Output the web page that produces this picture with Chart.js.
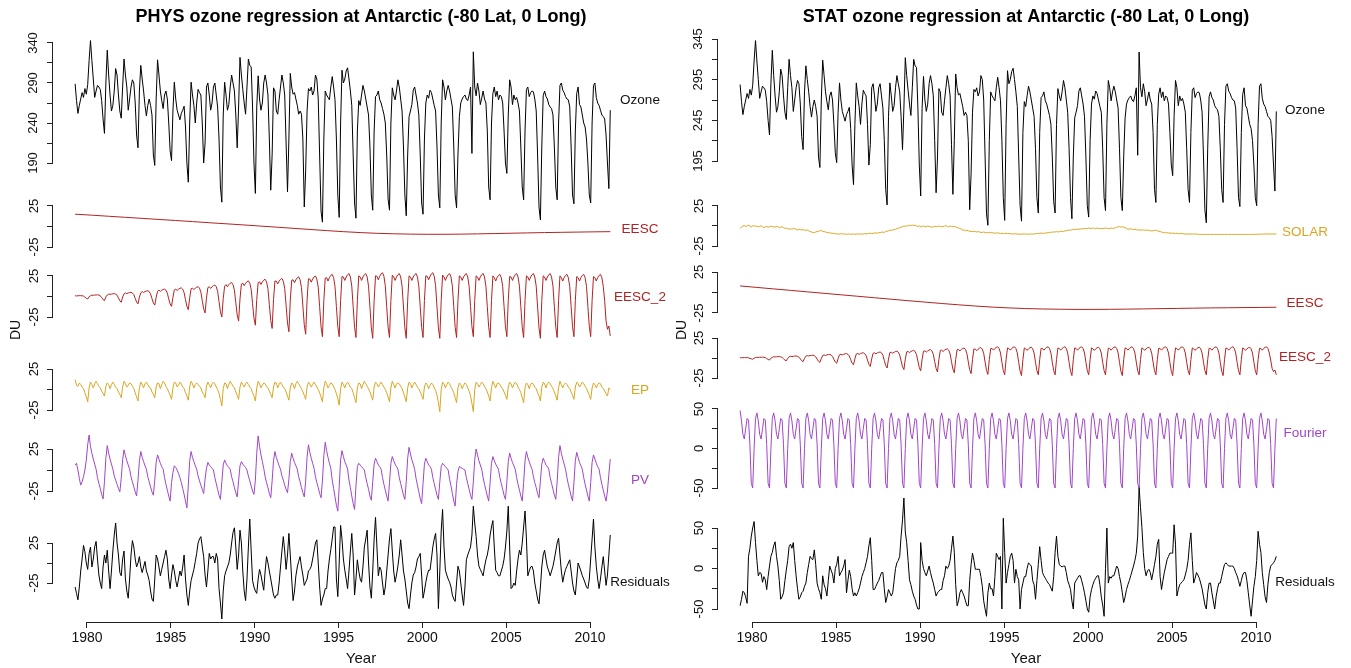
<!DOCTYPE html>
<html>
<head>
<meta charset="utf-8">
<script src="https://cdn.jsdelivr.net/npm/chart.js@4.4.1/dist/chart.umd.min.js"></script>
<style>
  html, body { margin: 0; padding: 0; background: #fff; }
  .wrap { display: flex; width: 1351px; height: 668px; }
  canvas { display: block; }
</style>
</head>
<body>
<div class="wrap">
  <canvas id="phys" width="675" height="668"></canvas>
  <canvas id="stat" width="676" height="668"></canvas>
</div>
<script>
// Monthly series from mid-April 1979, 384 months (rows = Apr..Mar)
const months = Array.from({length: 384}, (_, i) => 1979 + (3.5 + i) / 12);

const ozone = [
  289,268,252,262,270,278,272,283,276,288,318,343,
  318,295,272,280,287,285,282,268,245,227,290,331,
  300,275,255,262,280,308,300,275,255,246,285,320,
  300,285,256,270,285,294,290,265,225,209,280,312,
  295,280,262,249,262,270,262,250,200,187,270,319,
  300,280,268,258,275,280,270,240,205,193,255,291,
  270,256,250,244,252,256,261,235,190,166,240,291,
  275,262,240,265,282,278,275,240,190,215,285,290,
  275,256,265,285,290,275,260,220,160,141,250,291,
  275,256,263,285,300,290,280,250,209,260,322,300,
  282,265,251,285,320,312,310,260,190,152,260,299,
  270,256,265,290,300,290,275,220,156,200,284,280,
  255,251,269,285,300,290,275,215,154,220,302,285,
  276,278,270,262,251,255,251,220,135,180,255,283,
  280,285,275,280,300,295,270,200,130,116,220,280,
  275,272,269,285,298,285,269,220,150,122,240,306,
  290,295,305,309,295,280,262,200,140,121,230,268,
  262,275,287,280,270,260,250,210,150,131,230,273,
  275,280,269,265,258,251,240,200,145,131,240,284,
  275,269,280,294,285,270,255,210,150,124,200,248,
  255,263,281,285,275,265,250,200,140,126,220,265,
  275,271,281,278,270,262,255,210,150,134,240,294,
  285,269,280,287,280,270,260,210,150,134,200,248,
  265,270,273,275,270,268,275,285,202,329,285,274,
  290,280,263,271,280,270,265,230,160,144,240,277,
  285,273,280,269,275,273,265,230,190,177,250,294,
  285,263,275,269,272,265,255,210,160,144,230,282,
  285,273,278,280,279,270,255,200,135,119,210,274,
  280,273,270,263,260,258,250,210,160,144,240,287,
  290,281,278,273,270,269,260,210,150,139,230,277,
  285,263,260,250,240,235,220,190,150,140,240,287,
  290,272,265,262,256,250,248,245,225,190,158,256
];

// EESC terms are smooth, read once a year
const eescYears = [1979.29,1980.29,1981.29,1982.29,1983.29,1984.29,1985.29,1986.29,1987.29,1988.29,
  1989.29,1990.29,1991.29,1992.29,1993.29,1994.29,1995.29,1996.29,1997.29,1998.29,1999.29,2000.29,
  2001.29,2002.29,2003.29,2004.29,2005.29,2006.29,2007.29,2008.29,2009.29,2010.29,2011.21];
const eescPhys = [15,13.8,12.5,11.2,9.9,8.6,7.3,6,4.6,3.3,2,0.6,-0.8,-2.2,-3.6,-5,-6.3,-7.4,-8.3,-8.9,
  -9.3,-9.5,-9.5,-9.3,-9,-8.6,-8.2,-7.8,-7.4,-7.1,-6.8,-6.5,-6.3];
const eescStat = [8,6.2,4.4,2.6,0.8,-1,-2.8,-4.6,-6.4,-8.2,-10,-11.7,-13.4,-15,-16.5,-17.8,-18.8,-19.6,
  -20.1,-20.4,-20.6,-20.6,-20.5,-20.3,-20,-19.7,-19.4,-19.1,-18.8,-18.6,-18.4,-18.2,-18];

const eesc2Phys = [
  0.9,0.7,0.9,1.0,1.0,0.9,0.5,-0.8,-2.3,-3.0,-0.3,0.9,
  1.7,1.4,1.7,1.9,2.0,1.7,0.9,-1.3,-3.8,-5.0,-0.5,1.8,
  3.0,2.5,3.0,3.3,3.5,3.0,1.6,-1.8,-5.3,-7.0,-0.7,3.2,
  4.3,3.5,4.3,4.8,5.0,4.3,2.3,-2.3,-6.8,-9.0,-0.9,4.5,
  6.0,4.9,6.0,6.7,7.0,6.0,3.2,-2.6,-7.9,-10.5,-1.1,6.3,
  7.7,6.3,7.7,8.6,9.0,7.7,4.1,-3.0,-9.0,-12.0,-1.2,8.1,
  8.9,7.4,8.9,10.0,10.5,8.9,4.7,-4.0,-12.0,-16.0,-1.6,9.5,
  10.2,8.4,10.2,11.4,12.0,10.2,5.4,-5.0,-15.0,-20.0,-2.0,10.8,
  11.9,9.8,11.9,13.3,14.0,11.9,6.3,-6.3,-18.8,-25.0,-2.5,12.6,
  14.5,11.9,14.5,16.2,17.0,14.5,7.7,-7.5,-22.5,-30.0,-3.0,15.3,
  16.2,13.3,16.2,18.1,19.0,16.2,8.6,-8.8,-26.3,-35.0,-3.5,17.1,
  17.9,14.7,17.9,20.0,21.0,17.9,9.5,-9.8,-29.3,-39.0,-3.9,18.9,
  18.7,15.4,18.7,20.9,22.0,18.7,9.9,-10.8,-32.3,-43.0,-4.3,19.8,
  20.4,16.8,20.4,22.8,24.0,20.4,10.8,-11.5,-34.5,-46.0,-4.6,21.6,
  21.3,17.5,21.3,23.8,25.0,21.3,11.3,-12.3,-36.8,-49.0,-4.9,22.5,
  23.0,18.9,23.0,25.7,27.0,23.0,12.2,-12.3,-36.8,-49.0,-4.9,24.3,
  23.8,19.6,23.8,26.6,28.0,23.8,12.6,-12.5,-37.5,-50.0,-5.0,25.2,
  23.8,19.6,23.8,26.6,28.0,23.8,12.6,-12.8,-38.3,-51.0,-5.1,25.2,
  24.7,20.3,24.7,27.6,29.0,24.7,13.1,-12.5,-37.5,-50.0,-5.0,26.1,
  23.8,19.6,23.8,26.6,28.0,23.8,12.6,-12.8,-38.3,-51.0,-5.1,25.2,
  23.8,19.6,23.8,26.6,28.0,23.8,12.6,-12.5,-37.5,-50.0,-5.0,25.2,
  24.7,20.3,24.7,27.6,29.0,24.7,13.1,-12.8,-38.3,-51.0,-5.1,26.1,
  23.8,19.6,23.8,26.6,28.0,23.8,12.6,-12.5,-37.5,-50.0,-5.0,25.2,
  23.8,19.6,23.8,26.6,28.0,23.8,12.6,-12.3,-36.8,-49.0,-4.9,25.2,
  23.8,19.6,23.8,26.6,28.0,23.8,12.6,-12.5,-37.5,-50.0,-5.0,25.2,
  23.0,18.9,23.0,25.7,27.0,23.0,12.2,-12.3,-36.8,-49.0,-4.9,24.3,
  23.8,19.6,23.8,26.6,28.0,23.8,12.6,-12.5,-37.5,-50.0,-5.0,25.2,
  23.8,19.6,23.8,26.6,28.0,23.8,12.6,-12.8,-38.3,-51.0,-5.1,25.2,
  23.8,19.6,23.8,26.6,28.0,23.8,12.6,-12.5,-37.5,-50.0,-5.0,25.2,
  23.0,18.9,23.0,25.7,27.0,23.0,12.2,-12.3,-36.8,-49.0,-4.9,24.3,
  23.0,18.9,23.0,25.7,27.0,23.0,12.2,-12.3,-36.8,-49.0,-4.9,24.3,
  23.0,18.9,23.0,25.7,27.0,23.0,12.2,-5.0,-30.0,-40.0,-36.0,-48.0
];

const ep = [
  12,5,4,8,6,3,1,-4,-9,-15,2,9,
  6,2,7,10,7,4,2,-2,-5,-8,4,8,
  6,1,6,9,6,3,1,-3,-6,-10,3,10,
  7,3,5,8,7,4,1,-4,-9,-14,2,9,
  6,2,7,9,6,3,2,-3,-6,-10,3,8,
  7,1,6,10,8,4,1,-3,-7,-12,2,9,
  8,3,5,9,7,3,1,-4,-8,-13,3,10,
  7,2,6,8,6,4,2,-3,-6,-10,4,9,
  6,2,7,9,7,3,0,-5,-12,-20,1,8,
  7,1,6,10,7,4,2,-3,-7,-12,3,9,
  6,3,7,9,6,3,1,-4,-8,-14,2,10,
  7,2,5,8,7,4,2,-2,-6,-10,3,9,
  8,2,6,9,6,3,1,-3,-8,-13,2,8,
  6,1,7,10,7,4,1,-3,-7,-12,3,9,
  7,3,6,9,6,3,0,-4,-9,-15,2,10,
  7,2,5,8,7,3,0,-5,-11,-19,1,9,
  6,2,7,9,6,3,1,-4,-10,-16,2,8,
  7,1,6,10,7,4,1,-3,-8,-13,3,9,
  7,3,6,9,6,3,0,-4,-9,-15,2,10,
  6,2,7,8,7,4,1,-4,-9,-15,2,9,
  7,2,6,9,6,3,1,-3,-7,-12,3,8,
  6,1,5,8,6,2,-1,-7,-16,-27,0,9,
  7,2,6,9,7,3,0,-4,-10,-16,2,8,
  6,1,5,8,6,2,-2,-8,-17,-27,0,9,
  7,3,6,9,7,4,1,-3,-8,-14,2,10,
  6,2,7,8,6,3,1,-3,-7,-12,3,9,
  7,2,6,9,7,3,0,-4,-10,-16,2,8,
  6,1,6,8,6,3,1,-4,-8,-14,3,9,
  7,2,7,9,7,4,1,-3,-8,-13,2,10,
  6,2,6,8,6,3,1,-3,-7,-12,3,9,
  7,3,6,9,7,4,1,-3,-7,-12,2,8,
  6,2,6,8,7,3,1,-2,-5,-8,2,0
];

const pv = [
  6,8,0,-10,-18,-14,-8,0,12,30,41.6,28,
  20,13,7,1,-9,-16,-22,-29,-34.5,-14,14,29,
  20,13,7,1,-7,-12,-17,-22,-26,-10,12,24,
  17,11,6,1,-8,-14,-20,-26,-31,-12,11,22,
  15,10,5,1,-8,-14,-20,-26,-30,-12,9,18,
  13,8,4,1,-9,-17,-24,-31,-37,-15,-3,5,
  3,0,-4,-9,-15,-22,-29,-37,-45,-18,11,22,
  15,10,5,1,-7,-13,-18,-23,-28,-11,2,9,
  6,4,2,0,-9,-16,-23,-30,-35,-14,6,12,
  8,5,3,1,-8,-14,-21,-27,-32,-13,5,10,
  7,5,3,0,-7,-13,-19,-25,-29,-12,20,40.6,
  28,18,10,2,-8,-15,-21,-28,-33,-13,11,22,
  15,10,5,1,-7,-12,-18,-23,-27,-11,10,20,
  14,9,5,1,-8,-14,-21,-27,-32,-13,15,30,
  21,14,8,2,-8,-15,-21,-28,-33,-13,17,33,
  23,15,8,2,-12,-22,-32,-42,-49,-20,12,23,
  16,10,6,1,-12,-21,-31,-40,-47,-19,4,8,
  6,4,2,0,-9,-16,-23,-31,-36,-14,7,14,
  10,6,4,1,-9,-17,-24,-31,-37,-15,8,16,
  11,7,4,1,-9,-16,-23,-30,-35,-14,14,27,
  19,12,7,1,-10,-18,-26,-34,-40,-16,7,14,
  10,6,4,1,-9,-16,-23,-30,-35,-14,4,8,
  6,4,2,0,-11,-19,-28,-37,-43,-17,-2,4,
  3,2,1,0,-9,-16,-23,-30,-35,-14,12,25,
  18,11,6,1,-9,-17,-24,-31,-37,-15,8,16,
  11,7,4,1,-9,-16,-23,-30,-35,-14,10,20,
  14,9,5,1,-9,-17,-24,-31,-37,-15,11,22,
  15,10,5,1,-8,-15,-21,-28,-33,-13,7,14,
  10,6,4,1,-9,-16,-23,-30,-35,-14,15,29,
  20,13,7,1,-9,-17,-24,-31,-37,-15,11,21,
  15,9,5,1,-9,-17,-24,-31,-37,-15,9,18,
  13,8,4,1,-9,-17,-24,-31,-37,-25,-5,13
];

const residPhys = [
  -30,-38,-46,-30,-10,5,22,14,0,-8,12,20,
  -5,5,20,27,5,-15,-25,-32,-5,10,0,16,
  -10,-32,-10,15,35,50,25,10,-12,-16,5,15,
  -20,-35,-44,-20,10,28,20,5,-5,0,8,-5,
  -12,-5,2,-10,-15,-22,-35,-45,-48,-20,10,5,
  -5,-16,-8,0,8,16,5,-20,-32,-15,-2,-10,
  -22,-30,-20,-10,-16,-5,10,-20,-40,-53,-35,-22,
  -15,-8,2,12,25,30,33,20,8,-15,-30,-10,
  12,5,8,8,0,12,5,-32,-50,-70,-35,-16,
  -10,-5,0,10,25,38,44,20,-8,10,41,25,
  -10,-35,-47,-20,20,55,15,-22,-30,-35,-38,-20,
  -8,-15,-25,-34,-10,8,0,-10,-20,-30,-40,-44,
  -40,-40,-25,-5,15,33,15,-8,10,37,10,-20,
  -47,-35,-16,-5,2,8,-5,-15,-28,-24,-20,-10,
  -8,-4,5,15,25,29,0,-30,-53,-45,-40,-32,
  -32,-10,5,17,30,45,45,-20,-42,0,47,30,
  5,-9,-20,-32,-10,15,37,10,-40,-20,4,-10,
  -20,-24,-5,20,30,41,0,-30,-44,-10,30,57,
  20,-16,-5,-9,-25,-40,-30,-10,10,30,43,15,
  -10,-24,-15,-4,10,29,10,-10,-20,-35,-50,-57,
  -40,-25,-15,-12,-5,5,8,12,-15,-44,-35,-24,
  -15,-9,-9,5,20,30,37,10,-57,-10,40,67,
  20,-9,-15,-20,-24,-30,-40,-45,-48,-25,-4,-10,
  -25,-40,-53,-30,4,10,15,20,35,71,50,33,
  10,-4,-8,-12,-16,-5,4,10,20,35,45,53,
  20,-9,-12,-16,-16,-10,-4,5,20,40,71,20,
  -32,-30,-25,-28,-10,5,16,10,25,45,65,30,
  -16,-10,-5,-4,-10,-25,-35,-45,-51,-30,-5,10,
  16,5,-5,-10,-16,-10,-4,5,15,25,31,10,
  -10,-24,-15,-8,-4,0,4,-10,-25,-35,-40,-20,
  0,-5,-10,-16,-20,-25,-30,-32,-20,5,30,55,
  20,-4,-20,-32,-20,-5,8,-10,-28,-15,10,35
];

const solar = [
  -3,-1.5,0,0.5,-0.5,0,1,0,-1,0,0.5,-0.5,
  0,-1,-0.5,0.5,-1,-2,-1,-0.5,-1.5,-1,0,-1,
  -0.8,-1.5,-0.5,-1,-2,-1.5,-1,-2,-3,-2.5,-3.5,-4,
  -3.5,-4,-3,-3.5,-4,-5,-4,-4.5,-5,-4.5,-5,-5.5,
  -5,-6,-7,-7.5,-8,-8.4,-7.5,-7,-6.5,-6,-5.8,-6.5,
  -7,-7.5,-8,-8.5,-8.5,-9,-9,-9.5,-9.5,-10,-10,-10,
  -9.5,-10,-10,-10,-10.5,-10,-10,-10.5,-10,-10,-10.5,-10,
  -10,-10,-10,-10,-10,-9.5,-10,-9.5,-9.5,-9,-9.5,-9,
  -9,-8.5,-9,-8.5,-8,-8,-7.5,-8,-7,-6.5,-6,-5.5,
  -5,-5.5,-4,-4.5,-3,-3,-2,-1.5,-1,0,-0.5,0.5,
  0,1,0.5,1.3,0.5,1,0,-0.5,0,-1,-0.5,0,
  -0.5,-1,0,-0.5,-1,-1.5,-1,-0.5,-1,-0.5,0,-0.8,
  -0.5,-1,0,0.5,-0.5,-1,0,-0.5,-1,-0.5,-1,-2,
  -2.5,-3,-4,-5,-5,-6,-5.5,-6,-6.5,-7,-6.5,-7,
  -7,-7.5,-7,-7.5,-8,-8,-7.5,-8,-8.5,-8.4,-8,-8.5,
  -8.4,-8.5,-9,-9,-8.5,-9,-9.5,-9,-9.5,-9.5,-9,-9.5,
  -9.5,-9.5,-10,-10,-9.5,-10,-10,-10,-10.5,-10,-10,-10,
  -10,-10,-10.5,-10,-10,-10,-10,-9.5,-9.5,-9.5,-9,-9,
  -9,-9,-9,-8.5,-8.5,-8,-8,-7.5,-7.5,-7.5,-7,-7.5,
  -7,-7,-6.5,-7,-6,-6,-5.5,-5,-5.5,-4.5,-4.5,-4,
  -4.5,-4,-4,-3.5,-4,-3,-3.5,-3,-3,-2.5,-3,-3,
  -2.5,-3,-3.5,-2.5,-3,-3,-3.5,-3,-3,-2.5,-3,-3,
  -3.5,-2.5,-3,-3,-2,-1.5,-1,-0.8,-1.5,-1,-1.5,-2,
  -3,-4,-4,-3.5,-4,-4.5,-4,-4.5,-5,-5,-5,-5,
  -5,-5,-5.5,-5,-5.5,-6,-6,-6,-5.8,-5,-6,-6.5,
  -7,-7.5,-8,-8.4,-8.5,-8.5,-8.5,-9,-9,-9,-9,-9.5,
  -9,-9.5,-9.5,-9.5,-9.5,-10,-10,-10,-10,-10,-10,-10,
  -10,-10,-10,-10.5,-10.5,-10.5,-10.5,-10.5,-10.5,-10.5,-10.5,-10.5,
  -10.5,-10.5,-10.5,-10.5,-10.5,-10.5,-10.5,-10.5,-10.5,-10.5,-10.5,-10.5,
  -10.5,-10.5,-10.5,-10.5,-10.5,-10.5,-10.5,-10.5,-10.5,-10.5,-10.5,-10.5,
  -10.5,-10.5,-10.5,-10.5,-10.5,-10.5,-10.5,-10.5,-10.3,-10.3,-10.3,-10.3,
  -10.2,-10.2,-10,-10,-10,-10,-10,-10,-10,-10,-10,-10
];

const eesc2Stat = [
  0.4,0.4,0.4,0.5,0.5,0.4,0.2,-0.4,-1.1,-1.5,-0.2,0.5,
  0.9,0.7,0.9,1.0,1.0,0.9,0.5,-0.6,-1.9,-2.5,-0.3,0.9,
  1.5,1.3,1.5,1.7,1.8,1.5,0.8,-0.9,-2.6,-3.5,-0.4,1.6,
  2.1,1.8,2.1,2.4,2.5,2.1,1.1,-1.1,-3.4,-4.5,-0.5,2.3,
  3.0,2.5,3.0,3.3,3.5,3.0,1.6,-1.4,-4.1,-5.5,-0.6,3.2,
  3.8,3.2,3.8,4.3,4.5,3.8,2.0,-1.7,-5.0,-6.6,-0.7,4.1,
  4.7,3.9,4.7,5.2,5.5,4.7,2.5,-2.1,-6.4,-8.5,-0.9,5.0,
  5.5,4.6,5.5,6.2,6.5,5.5,2.9,-2.6,-7.9,-10.5,-1.1,5.9,
  6.4,5.3,6.4,7.1,7.5,6.4,3.4,-3.1,-9.4,-12.5,-1.3,6.8,
  7.2,6.0,7.2,8.1,8.5,7.2,3.8,-3.6,-10.9,-14.5,-1.5,7.7,
  8.1,6.7,8.1,9.0,9.5,8.1,4.3,-4.0,-12.0,-16.0,-1.6,8.6,
  8.9,7.4,8.9,10.0,10.5,8.9,4.7,-4.4,-13.1,-17.5,-1.8,9.5,
  9.8,8.1,9.8,10.9,11.5,9.8,5.2,-4.6,-13.9,-18.5,-1.9,10.4,
  10.6,8.8,10.6,11.9,12.5,10.6,5.6,-4.9,-14.6,-19.5,-2.0,11.3,
  11.1,9.1,11.1,12.4,13.0,11.1,5.9,-5.1,-15.4,-20.5,-2.1,11.7,
  11.9,9.8,11.9,13.3,14.0,11.9,6.3,-5.3,-15.8,-21.0,-2.1,12.6,
  11.9,9.8,11.9,13.3,14.0,11.9,6.3,-5.5,-16.5,-22.0,-2.2,12.6,
  11.5,9.5,11.5,12.8,13.5,11.5,6.1,-5.3,-15.8,-21.0,-2.1,12.2,
  11.9,9.8,11.9,13.3,14.0,11.9,6.3,-5.3,-15.8,-21.0,-2.1,12.6,
  11.9,9.8,11.9,13.3,14.0,11.9,6.3,-5.5,-16.5,-22.0,-2.2,12.6,
  11.9,9.8,11.9,13.3,14.0,11.9,6.3,-5.3,-15.8,-21.0,-2.1,12.6,
  11.5,9.5,11.5,12.8,13.5,11.5,6.1,-5.3,-15.8,-21.0,-2.1,12.2,
  11.9,9.8,11.9,13.3,14.0,11.9,6.3,-5.5,-16.5,-22.0,-2.2,12.6,
  11.9,9.8,11.9,13.3,14.0,11.9,6.3,-5.3,-15.8,-21.0,-2.1,12.6,
  11.5,9.5,11.5,12.8,13.5,11.5,6.1,-5.3,-15.8,-21.0,-2.1,12.2,
  11.9,9.8,11.9,13.3,14.0,11.9,6.3,-5.5,-16.5,-22.0,-2.2,12.6,
  11.9,9.8,11.9,13.3,14.0,11.9,6.3,-5.3,-15.8,-21.0,-2.1,12.6,
  11.5,9.5,11.5,12.8,13.5,11.5,6.1,-5.3,-15.8,-21.0,-2.1,12.2,
  11.9,9.8,11.9,13.3,14.0,11.9,6.3,-5.5,-16.5,-22.0,-2.2,12.6,
  11.9,9.8,11.9,13.3,14.0,11.9,6.3,-5.3,-15.8,-21.0,-2.1,12.6,
  11.5,9.5,11.5,12.8,13.5,11.5,6.1,-5.3,-15.8,-21.0,-2.1,12.2,
  11.9,9.8,11.9,13.3,14.0,11.9,6.3,-2.5,-13.0,-17.0,-15.0,-21.0
];

const fourier = [
  48,35,18,12,25,38,36,5,-44,-50,0,38,
  45,35,18,12,25,38,36,5,-44,-50,0,38,
  45,35,18,12,25,38,36,5,-44,-50,0,38,
  45,35,18,12,25,38,36,5,-44,-50,0,38,
  45,35,18,12,25,38,36,5,-44,-50,0,38,
  45,35,18,12,25,38,36,5,-44,-50,0,38,
  45,35,18,12,25,38,36,5,-44,-50,0,38,
  45,35,18,12,25,38,36,5,-44,-50,0,38,
  45,35,18,12,25,38,36,5,-44,-50,0,38,
  45,35,18,12,25,38,36,5,-44,-50,0,38,
  45,35,18,12,25,38,36,5,-44,-50,0,38,
  45,35,18,12,25,38,36,5,-44,-50,0,38,
  45,35,18,12,25,38,36,5,-44,-50,0,38,
  45,35,18,12,25,38,36,5,-44,-50,0,38,
  45,35,18,12,25,38,36,5,-44,-50,0,38,
  45,35,18,12,25,38,36,5,-44,-50,0,38,
  45,35,18,12,25,38,36,5,-44,-50,0,38,
  45,35,18,12,25,38,36,5,-44,-50,0,38,
  45,35,18,12,25,38,36,5,-44,-50,0,38,
  45,35,18,12,25,38,36,5,-44,-50,0,38,
  45,35,18,12,25,38,36,5,-44,-50,0,38,
  45,35,18,12,25,38,36,5,-44,-50,0,38,
  45,35,18,12,25,38,36,5,-44,-50,0,38,
  45,35,18,12,25,38,36,5,-44,-50,0,38,
  45,35,18,12,25,38,36,5,-44,-50,0,38,
  45,35,18,12,25,38,36,5,-44,-50,0,38,
  45,35,18,12,25,38,36,5,-44,-50,0,38,
  45,35,18,12,25,38,36,5,-44,-50,0,38,
  45,35,18,12,25,38,36,5,-44,-50,0,38,
  45,35,18,12,25,38,36,5,-44,-50,0,38,
  45,35,18,12,25,38,36,5,-44,-50,0,38,
  45,35,18,12,25,38,36,5,-44,-50,0,38
];

const residStat = [
  -46,-38,-28,-30,-35,-43,15,25,40,50,58,32,
  10,-9,-5,-6,-17,-10,-14,-26,-10,3,15,20,
  28,33,15,3,-15,-38,-35,-30,-15,-2,10,27,
  30,25,32,10,-9,-25,-38,-35,-30,-28,-22,-18,
  -5,5,15,12,11,23,5,-18,-25,-30,-38,-9,
  -20,-25,-34,-15,3,-2,-7,-18,0,5,15,-9,
  -5,-2,3,11,-30,-15,-2,-10,-25,-34,-30,-34,
  -30,-25,-18,-10,-5,0,7,15,28,38,10,-26,
  -26,-22,-18,-15,-10,-5,-5,-25,-42,-35,-26,-30,
  -34,-30,-15,0,7,10,15,40,60,87,45,32,
  10,-14,-20,-28,-34,-38,-45,-50,-50,32,10,0,
  -5,-9,-3,3,-5,-12,-18,-26,-34,-30,-28,-26,
  -26,-15,-9,3,0,3,10,25,40,20,-20,-46,
  -40,-30,-26,-30,-34,-40,-46,-46,-15,5,19,10,
  -1,-1,-1,-1,-10,-22,-40,-50,-59,-30,-18,-25,
  -25,-34,-10,19,15,11,15,-50,62,20,-18,-5,
  5,15,19,10,-18,-1,-10,-14,-50,-26,-18,-10,
  -10,0,7,5,3,-15,-20,-38,-15,5,27,10,
  -5,-9,-12,-15,-18,-20,-24,-28,-10,20,40,15,
  5,3,2,3,3,-5,-15,-20,-26,-40,-50,-18,
  -15,-12,-9,-9,-15,-22,-30,-40,-50,-54,-35,-26,
  -20,-15,-12,-9,-9,-20,-35,-45,-59,0,50,-18,
  -10,-12,-9,-9,-3,3,0,-10,-18,-30,-42,-35,
  -26,-20,-15,-9,-3,3,10,19,40,101,75,51,
  20,0,-9,-3,-1,-5,-14,-5,5,15,30,36,
  -10,-26,-15,-5,3,11,15,19,19,19,54,30,
  -34,-26,-20,-18,-16,-14,-8,-1,10,30,44,10,
  -18,-12,-5,-8,-12,-18,-25,-35,-45,-50,-30,-18,
  -18,-30,-40,-50,-35,-25,-18,-18,-10,-2,5,7,
  5,3,3,3,3,0,-5,-9,-15,-22,-15,-8,
  -5,-5,-15,-30,-45,-59,-40,-22,-10,10,46,30,
  20,-5,-20,-35,-42,-20,-5,3,5,7,10,15
];

// axis ticks
const yearTicks = [1980, 1985, 1990, 1995, 2000, 2005, 2010];
const ozTicksPhys = [190, 215, 240, 265, 290, 315, 340];
const ozLabelsPhys = [190, 240, 290, 340];
const ozTicksStat = [195, 220, 245, 270, 295, 320, 345];
const ozLabelsStat = [195, 245, 295, 345];
const ticks25 = [-25, 0, 25];
const labels25 = [-25, 25];
const ticks50 = [-50, -25, 0, 25, 50];
const labels50 = [-50, 0, 50];

const BLACK = '#000000', RED = '#B22222', GOLD = '#DAA520', PURPLE = '#A045C8';
const AXIS = '#222';
const TOP = 30, BOTTOM = 622;
const TICK_FONT = {family: 'Arial, "Liberation Sans", sans-serif', size: 13};

// y axis for one strip: value v1 sits at pixel p1, v2 at p2
function stripAxis(v1, p1, v2, p2, ticks, shown) {
  const k = (p2 - p1) / (v1 - v2);
  return {
    type: 'linear', axis: 'y', position: 'left', bounds: 'data',
    min: v1 - (BOTTOM - p1) / k,
    max: v1 + (p1 - TOP) / k,
    afterBuildTicks: s => { s.ticks = ticks.map(v => ({value: v})); },
    afterFit: s => { s.width = 0; },
    border: {display: false},
    grid: {drawOnChartArea: false, drawTicks: true, tickLength: 6, tickColor: AXIS, color: AXIS},
    ticks: {
      autoSkip: false, minRotation: 90, maxRotation: 90, crossAlign: 'center',
      padding: 3, color: '#111', font: TICK_FONT,
      callback: v => shown.includes(v) ? String(v) : ''
    }
  };
}

// x axis: 1980 at pixel p0, 2010 at p1, chart area left..right
function yearAxis(p0, p1, left, right) {
  const k = (p1 - p0) / (2010 - 1980);
  return {
    type: 'linear', position: 'bottom', bounds: 'data',
    min: 1980 - (p0 - left) / k,
    max: 1980 + (right - p0) / k,
    afterBuildTicks: s => { s.ticks = yearTicks.map(v => ({value: v})); },
    afterFit: s => { s.height = 668 - BOTTOM; },
    border: {display: false},
    grid: {drawOnChartArea: false, drawTicks: true, tickLength: 6, tickColor: AXIS, color: AXIS},
    ticks: {autoSkip: false, maxRotation: 0, padding: 2, color: '#111',
      font: {family: 'Arial, "Liberation Sans", sans-serif', size: 14}, callback: v => String(v)},
    title: {display: true, text: 'Year', color: '#111', padding: 0,
      font: {family: 'Arial, "Liberation Sans", sans-serif', size: 15}}
  };
}

// strips share the left margin; widen their boxes after layout so labels are not clipped
const axisLines = {
  id: 'axisLines',
  afterLayout(chart) {
    Object.values(chart.scales).forEach(s => {
      if (!s.isHorizontal()) { s.left = 0; s.width = s.right; }
    });
  },
  // R-style axis lines: only between first and last tick
  afterDraw(chart) {
    const ctx = chart.ctx;
    ctx.save();
    ctx.strokeStyle = AXIS;
    ctx.lineWidth = 1;
    Object.values(chart.scales).forEach(s => {
      const t = s.ticks;
      if (!t.length) return;
      const a = s.getPixelForValue(t[0].value);
      const b = s.getPixelForValue(t[t.length - 1].value);
      ctx.beginPath();
      if (s.isHorizontal()) {
        const y = Math.round(s.top) + 0.5;
        ctx.moveTo(a, y); ctx.lineTo(b, y);
      } else {
        const x = Math.round(s.right) - 0.5;
        ctx.moveTo(x, a); ctx.lineTo(x, b);
      }
      ctx.stroke();
    });
    ctx.restore();
  }
};

// title, DU label and the series names on the right
const panelText = {
  id: 'panelText',
  afterDraw(chart, args, o) {
    const ctx = chart.ctx;
    ctx.save();
    ctx.fillStyle = '#000';
    ctx.font = 'bold 18px Arial, "Liberation Sans", sans-serif';
    ctx.textAlign = 'center';
    ctx.textBaseline = 'alphabetic';
    ctx.fillText(o.title, o.titleX, 22);

    ctx.save();
    ctx.font = '14px Arial, "Liberation Sans", sans-serif';
    ctx.fillStyle = '#111';
    ctx.translate(o.duX, 330);
    ctx.rotate(-Math.PI / 2);
    ctx.textBaseline = 'middle';
    ctx.fillText('DU', 0, 0);
    ctx.restore();

    ctx.font = '13.5px Arial, "Liberation Sans", sans-serif';
    ctx.textBaseline = 'middle';
    o.names.forEach(n => {
      ctx.fillStyle = n.color;
      ctx.fillText(n.text, o.nameX, n.y);
    });
    ctx.restore();
  }
};

const pts = (xs, ys) => ys.map((y, i) => ({x: xs[i], y}));
const line = (xs, ys, axis, color) => ({
  data: pts(xs, ys), yAxisID: axis, borderColor: color, borderWidth: 1,
  pointRadius: 0, tension: 0, fill: false
});

function makeChart(id, cfg) {
  return new Chart(document.getElementById(id), {
    type: 'line',
    data: {datasets: cfg.datasets},
    options: {
      responsive: false, animation: false, devicePixelRatio: 1, events: [],
      layout: {padding: {top: TOP, left: cfg.left, right: cfg.width - cfg.right, bottom: 0}},
      scales: Object.assign({x: yearAxis(cfg.p1980, cfg.p2010, cfg.left, cfg.right)}, cfg.axes),
      plugins: {legend: {display: false}, tooltip: {enabled: false}, panelText: cfg.text}
    },
    plugins: [axisLines, panelText]
  });
}

// PHYS panel
makeChart('phys', {
  width: 675, left: 53, right: 669, p1980: 87, p2010: 590,
  datasets: [
    line(months, ozone, 'oz', BLACK),
    line(eescYears, eescPhys, 'eesc', RED),
    line(months, eesc2Phys, 'eesc2', RED),
    line(months, ep, 'ep', GOLD),
    line(months, pv, 'pv', PURPLE),
    line(months, residPhys, 'res', BLACK)
  ],
  axes: {
    oz: stripAxis(340, 43, 190, 163, ozTicksPhys, ozLabelsPhys),
    eesc: stripAxis(25, 206, -25, 247, ticks25, labels25),
    eesc2: stripAxis(25, 276, -25, 317, ticks25, labels25),
    ep: stripAxis(25, 369, -25, 410, ticks25, labels25),
    pv: stripAxis(25, 449, -25, 491, ticks25, labels25),
    res: stripAxis(25, 543, -25, 583, ticks25, labels25)
  },
  text: {
    title: 'PHYS ozone regression at Antarctic (-80 Lat, 0 Long)', titleX: 361, duX: 16, nameX: 640,
    names: [
      {text: 'Ozone', y: 100, color: '#111'},
      {text: 'EESC', y: 229, color: RED},
      {text: 'EESC_2', y: 297, color: RED},
      {text: 'EP', y: 390, color: GOLD},
      {text: 'PV', y: 480, color: PURPLE},
      {text: 'Residuals', y: 582, color: '#111'}
    ]
  }
});

// STAT panel
makeChart('stat', {
  width: 676, left: 43, right: 659, p1980: 77, p2010: 581,
  datasets: [
    line(months, ozone, 'oz', BLACK),
    line(months, solar, 'solar', GOLD),
    line(eescYears, eescStat, 'eesc', RED),
    line(months, eesc2Stat, 'eesc2', RED),
    line(months, fourier, 'four', PURPLE),
    line(months, residStat, 'res', BLACK)
  ],
  axes: {
    oz: stripAxis(345, 39, 195, 161, ozTicksStat, ozLabelsStat),
    solar: stripAxis(25, 206, -25, 246, ticks25, labels25),
    eesc: stripAxis(25, 272, -25, 313, ticks25, labels25),
    eesc2: stripAxis(25, 338, -25, 378, ticks25, labels25),
    four: stripAxis(50, 409, -50, 488, ticks50, labels50),
    res: stripAxis(50, 528, -50, 609, ticks50, labels50)
  },
  text: {
    title: 'STAT ozone regression at Antarctic (-80 Lat, 0 Long)', titleX: 351, duX: 7, nameX: 630,
    names: [
      {text: 'Ozone', y: 110, color: '#111'},
      {text: 'SOLAR', y: 232, color: GOLD},
      {text: 'EESC', y: 303, color: RED},
      {text: 'EESC_2', y: 357, color: RED},
      {text: 'Fourier', y: 433, color: PURPLE},
      {text: 'Residuals', y: 582, color: '#111'}
    ]
  }
});
</script>
</body>
</html>
